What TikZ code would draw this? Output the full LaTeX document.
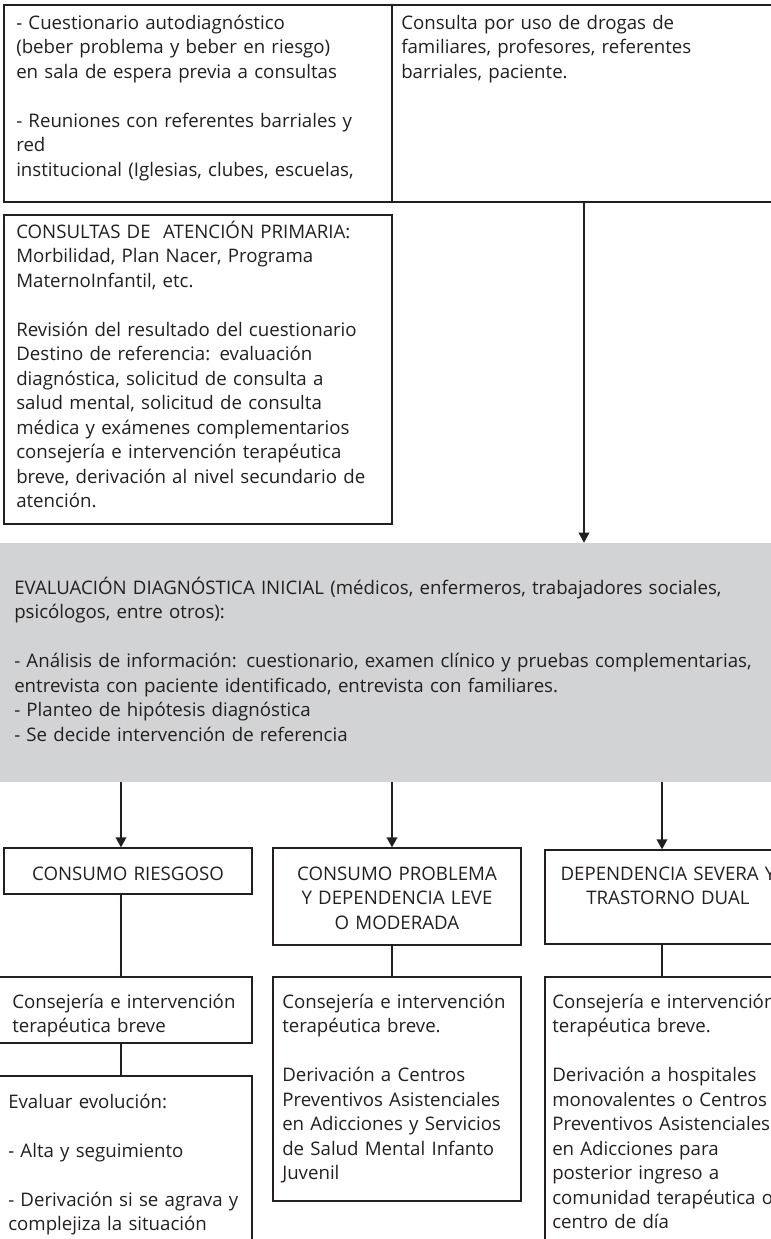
\documentclass[tikz,border=0pt]{standalone}
\usepackage{fontspec}
\setmainfont{Open Sans}
\usetikzlibrary{arrows.meta,fit}
\definecolor{ink}{RGB}{35,31,32}
\definecolor{panel}{RGB}{209,211,212}
\tikzset{
  box/.style={draw=ink, line width=1pt, inner sep=0pt},
  shade/.style={fill=panel, inner sep=0pt},
  txt/.style={font=\fontsize{14pt}{18.4pt}\selectfont, text=ink, align=left, text width=#1, inner sep=0pt, anchor=base west},
  cap/.style={font=\fontsize{14pt}{18.4pt}\selectfont, text=ink, align=center, text width=#1, inner sep=0pt, anchor=base},
  link/.style={draw=ink, line width=1pt},
  flow/.style={link, -{Triangle[length=7.5pt,width=8pt]}}
}
\begin{document}
\begin{tikzpicture}[x=0.75pt, y=-0.75pt]
\useasboundingbox (0,0) rectangle (771,1239);
\clip (0,0) rectangle (771,1239);
% columns of the lower part
\coordinate (col1) at (121,0);
\coordinate (col2) at (392,0);
\coordinate (col3) at (662,0);

% first row
\node[box, fit={(4,5) (392,202)}] (screen) {};
\node[box, fit={(392,5) (776,202)}] (demand) {};
\node[txt=300pt] (screen-t) at (16,29) {- Cuestionario autodiagnóstico\\ (beber problema y beber en riesgo)\\ en sala de espera previa a consultas\\[18.4pt] - Reuniones con referentes barriales y\\ red\\ institucional (Iglesias, clubes, escuelas,};
\node[txt=290pt] (demand-t) at (401,29) {Consulta por uso de drogas de\\ familiares, profesores, referentes\\ barriales, paciente.};

\node[box, fit={(4,215) (392,524)}] (aps) {};
\node[txt=300pt] (aps-t) at (16,238) {CONSULTAS DE~~ATENCIÓN PRIMARIA:\\ Morbilidad, Plan Nacer, Programa\\ MaternoInfantil, etc.\\[18.4pt] Revisión del resultado del cuestionario\\ Destino de referencia: evaluación\\ diagnóstica, solicitud de consulta a\\ salud mental, solicitud de consulta\\ médica y exámenes complementarios\\ consejería e intervención terapéutica\\ breve, derivación al nivel secundario de\\ atención.};

% evaluation panel
\node[shade, fit={(-5,543) (776,782)}] (eval) {};
\node[txt=640pt] (eval-t) at (14,594) {EVALUACIÓN DIAGNÓSTICA INICIAL (médicos, enfermeros, trabajadores sociales,\\ psicólogos, entre otros):\\[18.4pt] - Análisis de información: cuestionario, examen clínico y pruebas complementarias,\\ entrevista con paciente identificado, entrevista con familiares.\\ - Planteo de hipótesis diagnóstica\\ - Se decide intervención de referencia};

% categories
\node[box, fit={(4,848) (252,894)}] (risk) {};
\node[cap=180pt] (risk-t) at (128,880) {CONSUMO RIESGOSO};
\node[box, fit={(273,848) (521,945)}] (prob) {};
\node[cap=180pt] (prob-t) at (397,880) {CONSUMO PROBLEMA\\ Y DEPENDENCIA LEVE\\ O MODERADA};
\node[box, fit={(545,850) (791,944)}] (dep) {};
\node[cap=180pt] (dep-t) at (668,880) {DEPENDENCIA SEVERA Y\\ TRASTORNO DUAL};

% interventions
\node[box, fit={(-10,977) (252,1043)}] (adv1) {};
\node[txt=240pt] (adv1-t) at (12,1008) {Consejería e intervención\\ terapéutica breve};
\node[box, fit={(273,977) (521,1201)}] (adv2) {};
\node[txt=240pt] (adv2-t) at (282,1008) {Consejería e intervención\\ terapéutica breve.\\[18.4pt] Derivación a Centros\\ Preventivos Asistenciales\\ en Adicciones y Servicios\\ de Salud Mental Infanto\\ Juvenil};
\node[box, fit={(545,977) (791,1260)}] (adv3) {};
\node[txt=240pt] (adv3-t) at (552,1008) {Consejería e intervención\\ terapéutica breve.\\[18.4pt] Derivación a hospitales\\ monovalentes o Centros\\ Preventivos Asistenciales\\ en Adicciones para\\ posterior ingreso a\\ comunidad terapéutica o\\ centro de día};
\node[box, fit={(-10,1076) (252,1260)}] (evol) {};
\node[txt=240pt] (evol-t) at (8,1108) {Evaluar evolución:\\[18.4pt] - Alta y seguimiento\\[18.4pt] - Derivación si se agrava y\\ complejiza la situación};

% connectors
\draw[flow] (demand.south) -- (eval.north -| demand.south);
\draw[flow] (eval.south -| col1) -- (risk.north -| col1);
\draw[flow] (eval.south -| col2) -- (prob.north -| col2);
\draw[flow] (eval.south -| col3) -- (dep.north -| col3);
\draw[link] (risk.south -| col1) -- (adv1.north -| col1);
\draw[link] (prob.south -| col2) -- (adv2.north -| col2);
\draw[link] (dep.south -| col3) -- (adv3.north -| col3);
\draw[link] (adv1.south -| col1) -- (evol.north -| col1);
\end{tikzpicture}
\end{document}
